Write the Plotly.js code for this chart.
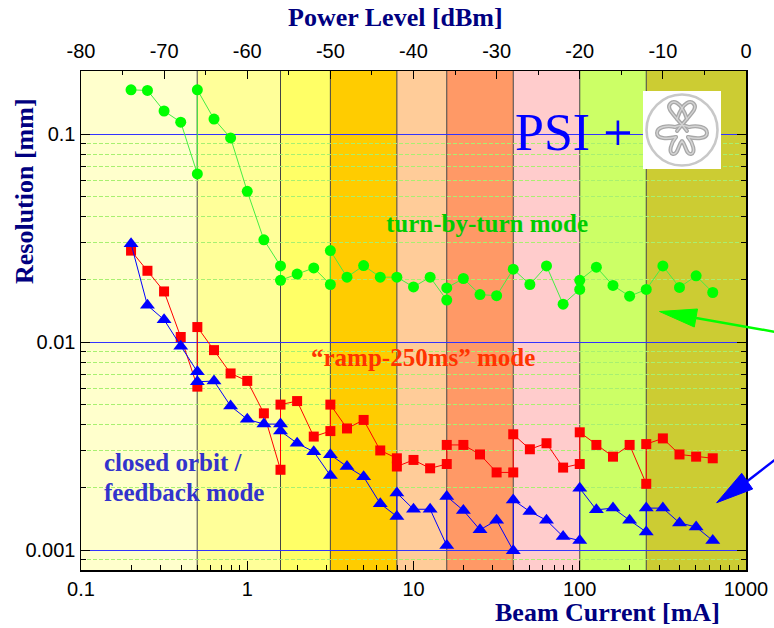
<!DOCTYPE html>
<html><head><meta charset="utf-8">
<script src="https://cdn.plot.ly/plotly-3.0.1.min.js"></script>
<style>html,body{margin:0;padding:0;background:#fff}#chart{width:774px;height:628px}</style>
</head><body><div id="chart"></div>
<script>
// ---------------- data ----------------
const currentGreen = [0.2,0.251,0.316,0.398,0.501,0.501,0.631,0.794,1,1.259,1.585,1.585,1.995,2.512,3.162,3.162,3.981,5.012,6.31,7.943,10,12.59,15.85,15.85,19.95,25.12,31.62,39.81,50.12,63.1,79.43,100,100,125.9,158.5,199.5,251.2,316.2,398.1,501.2,631];
const resGreen = [0.163,0.162,0.129,0.114,0.0643,0.163,0.118,0.0957,0.053,0.031,0.0232,0.0198,0.0212,0.0227,0.0189,0.0275,0.0205,0.0233,0.0205,0.0205,0.0184,0.0205,0.0159,0.0182,0.0202,0.0169,0.0167,0.0224,0.0189,0.0232,0.0152,0.0179,0.0198,0.0229,0.0187,0.0166,0.0179,0.0232,0.0183,0.0208,0.0173];

const currentRed = [0.2,0.251,0.316,0.398,0.501,0.501,0.631,0.794,1,1.259,1.585,1.585,1.995,2.512,3.162,3.162,3.981,5.012,6.31,7.943,7.943,10,12.59,15.85,15.85,19.95,25.12,31.62,39.81,39.81,50.12,63.1,79.43,100,100,125.9,158.5,199.5,251.2,251.2,316.2,398.1,501.2,631];
const resRed = [0.0275,0.022,0.0175,0.01057,0.0061,0.0118,0.00914,0.00706,0.0065,0.00454,0.00243,0.005,0.0052,0.00351,0.00373,0.005,0.00384,0.00422,0.00301,0.00276,0.00252,0.00271,0.00247,0.00259,0.0032,0.0032,0.00288,0.00236,0.00236,0.0036,0.00305,0.00326,0.00249,0.00259,0.00368,0.0032,0.00281,0.0032,0.00208,0.00323,0.00344,0.00288,0.00281,0.00276];

const currentBlue = [0.2,0.251,0.316,0.398,0.501,0.501,0.631,0.794,1,1.259,1.585,1.585,1.995,2.512,3.162,3.162,3.981,5.012,6.31,7.943,7.943,10,12.59,15.85,15.85,19.95,25.12,31.62,39.81,39.81,50.12,63.1,79.43,100,100,125.9,158.5,199.5,251.2,251.2,316.2,398.1,501.2,631];
const resBlue = [0.0297,0.015,0.0128,0.00955,0.00719,0.00644,0.00649,0.00492,0.00425,0.00403,0.00403,0.00373,0.00326,0.00297,0.00228,0.00287,0.00252,0.00225,0.00167,0.00145,0.00188,0.00157,0.00157,0.00105,0.00181,0.00155,0.00125,0.00139,0.000993,0.00174,0.00153,0.00139,0.00116,0.00111,0.00198,0.00156,0.00159,0.00139,0.00122,0.00159,0.00159,0.00135,0.00129,0.00111];

const bandEdges = [0.1,0.5,1.585,3.162,7.943,15.85,39.81,100,251.2,1000];
const bandColors = ['#FFFFCC','#FFFF99','#FFFF66','#FFCC00','#FFCC99','#FF9966','#FFCCCC','#CCFF66','#CCCC33'];

const xTickVals = [0.1,1,10,100,1000];
const xTickText = ['0.1','1','10','100','1000'];
const yTickVals = [0.001,0.01,0.1];
const yTickText = ['0.001','0.01','0.1'];
const powerTicks = [-80,-70,-60,-50,-40,-30,-20,-10,0];
const powerTickText = ['-80','-70','-60','-50','-40','-30','-20','-10','0'];
const powerMinor = [-75,-65,-55,-45,-35,-25,-15,-5];

// ---------------- geometry helpers (layout only) ----------------
const W=774,H=628,L=81,R=28,T=71,B=58;
const pw=W-L-R, ph=H-T-B;
const pxX = v => (v-L)/pw;
const pxY = v => (H-B-v)/ph;
// y range chosen so decade gridlines fall on whole pixels
const decadePx = 208;
const yTop = -1 + (134-T)/decadePx;
const yBot = yTop - ph/decadePx;

const xMinor=[], yMinor=[];
[0.1,1,10,100].forEach(d=>{for(let k=2;k<=9;k++) xMinor.push(k*d);});
[0.0001,0.001,0.01,0.1].forEach(d=>{for(let k=2;k<=9;k++){const v=k*d; if(v>0.0008&&v<0.2) yMinor.push(v);}});

const serif = 'Liberation Serif, Times New Roman, serif';
const sans = 'Liberation Sans, Arial, sans-serif';

// ---------------- traces ----------------
const traces = [
  {x:currentGreen, y:resGreen, type:'scatter', mode:'lines+markers',
   line:{color:'#44EE44', width:1}, marker:{symbol:'circle', size:11, color:'#00FF00'}},
  {x:currentRed, y:resRed, type:'scatter', mode:'lines+markers',
   line:{color:'#FF0000', width:1}, marker:{symbol:'square', size:10, color:'#FF0000'}},
  {x:currentBlue, y:resBlue, type:'scatter', mode:'lines+markers',
   line:{color:'#0000FF', width:1}, marker:{symbol:'triangle-up', size:13, color:'#0000FF'}},
  {x:[powerTicks[0], powerTicks[powerTicks.length-1]], y:[yTickVals[1], yTickVals[1]], xaxis:'x2',
   type:'scatter', mode:'markers', marker:{opacity:0}, hoverinfo:'skip'}
];

// ---------------- shapes ----------------
const shapes = [];
for(let i=0;i<bandColors.length;i++){
  shapes.push({type:'rect', xref:'x', yref:'paper', x0:bandEdges[i], x1:bandEdges[i+1], y0:0, y1:1,
    fillcolor:bandColors[i], line:{width:0}, layer:'below'});
}
for(let i=1;i<bandEdges.length-1;i++){
  shapes.push({type:'line', xref:'x', yref:'paper', x0:bandEdges[i], x1:bandEdges[i], y0:0, y1:1,
    line:{color:'#444', width:1}, layer:'below'});
}
function arrow(tail, baseC, tip, c1, c2, color){
  shapes.push({type:'line', xref:'paper', yref:'paper', x0:pxX(tail[0]), y0:pxY(tail[1]), x1:pxX(baseC[0]), y1:pxY(baseC[1]),
    line:{color:color, width:2.5}, layer:'above'});
  shapes.push({type:'path', xref:'paper', yref:'paper',
    path:`M ${pxX(tip[0])} ${pxY(tip[1])} L ${pxX(c1[0])} ${pxY(c1[1])} L ${pxX(c2[0])} ${pxY(c2[1])} Z`,
    fillcolor:color, line:{color:color, width:1}, layer:'above'});
}
arrow([776,332],[696,318],[659.5,311.5],[697.5,309],[694.3,327],'#00FF00');
arrow([776,459],[747.2,481.2],[716.7,502.7],[741.7,473.3],[752.7,489],'#0000FF');

// ---------------- logo ----------------
const knot = `<path d='M44 40 C38 32 30 24 27 19 C24 14 29 9 34 12 C39 15 42 22 44 28'/>
<path d='M34 40 C40 32 48 24 51 19 C54 14 49 9 44 12 C39 15 36 22 34 28'/>
<path d='M32 36 C24 34 14 36 14 42 C14 48 24 48 33 46'/>
<path d='M46 36 C54 34 64 36 64 42 C64 48 54 48 45 46'/>
<path d='M33 46 C28 52 25 62 30 63 C35 64 35 54 39 50 C43 54 43 64 48 63 C53 62 50 52 45 46'/>
<path d='M32 36 C36 34 42 34 46 36'/>`;
const logoSvg = `<svg xmlns='http://www.w3.org/2000/svg' width='78' height='78' viewBox='0 0 78 78'>
<rect width='78' height='78' fill='white'/>
<circle cx='39' cy='39' r='35.5' fill='none' stroke='#c8c8c8' stroke-width='2.6'/>
<g fill='none' stroke='#a8a8a8' stroke-width='4' stroke-linecap='round' stroke-linejoin='round'>${knot}</g>
<g fill='none' stroke='#d4d4d4' stroke-width='1.4' stroke-linecap='round' stroke-linejoin='round'>${knot}</g>
</svg>`;
const logoUri = 'data:image/svg+xml;charset=utf-8,' + encodeURIComponent(logoSvg);

// ---------------- annotations ----------------
function txt(text, x, y, size, color, opts){
  return Object.assign({text:text, xref:'paper', yref:'paper', x:pxX(x), y:pxY(y), showarrow:false,
    xanchor:'center', yanchor:'middle', font:{family:serif, size:size, color:color}}, opts||{});
}
const annotations = [
  txt('<b>Power Level [dBm]</b>', 395, 17.5, 26, '#000080'),
  txt('<b>Beam Current [mA]</b>', 607.5, 612, 26, '#000080'),
  txt('<b>Resolution [mm]</b>', 24, 191, 26, '#000080', {textangle:-90}),
  txt('PSI +', 573.7, 132.5, 52, '#0000FF'),
  txt('<b>turn-by-turn mode</b>', 486.5, 223.3, 25, '#00CC00'),
  txt('<b>“ramp-250ms” mode</b>', 422.5, 357, 25, '#FF3300'),
  txt('<b>closed orbit /</b>', 102, 462, 25, '#3333CC', {xanchor:'left'}),
  txt('<b>feedback mode</b>', 102, 492, 25, '#3333CC', {xanchor:'left'})
];

const layout = {
  width:W, height:H, margin:{l:L, r:R, t:T, b:B, pad:0},
  paper_bgcolor:'#fff', plot_bgcolor:'#fff', showlegend:false,
  xaxis:{type:'log', range:[-1,3], tickmode:'array', tickvals:xTickVals, ticktext:xTickText,
    showgrid:false, zeroline:false, ticks:'inside', ticklen:9, tickwidth:1, tickcolor:'#000',
    showline:true, linecolor:'#000', linewidth:1.5, mirror:false,
    tickfont:{family:sans, size:20, color:'#000'},
    minor:{tickmode:'array', tickvals:xMinor, ticks:'inside', ticklen:5, tickcolor:'#000', showgrid:false}},
  xaxis2:{overlaying:'x', side:'top', range:[-80,0], tickmode:'array', tickvals:powerTicks, ticktext:powerTickText,
    showgrid:false, zeroline:false, ticks:'inside', ticklen:8, tickcolor:'#000',
    showline:true, linecolor:'#000', linewidth:1.5, ticklabelstandoff:4,
    tickfont:{family:sans, size:20, color:'#000'},
    minor:{tickmode:'array', tickvals:powerMinor, ticks:'inside', ticklen:4, tickcolor:'#000', showgrid:false}},
  yaxis:{type:'log', range:[yBot, yTop], tickmode:'array', tickvals:yTickVals, ticktext:yTickText,
    showgrid:true, gridcolor:'#3333ff', gridwidth:1, zeroline:false,
    ticks:'inside', ticklen:9, tickcolor:'#000', showline:true, linecolor:'#000', linewidth:1.5, mirror:'ticks',
    tickfont:{family:sans, size:20, color:'#000'},
    minor:{tickmode:'array', tickvals:yMinor, ticks:'inside', ticklen:5, tickcolor:'#000',
      showgrid:true, gridcolor:'#a8f070', griddash:'4px,2px', gridwidth:1}},
  shapes:shapes,
  annotations:annotations,
  images:[{source:logoUri, xref:'paper', yref:'paper', x:pxX(643), y:pxY(91), sizex:78/pw, sizey:78/ph,
    xanchor:'left', yanchor:'top', sizing:'stretch', layer:'above'}]
};

Plotly.newPlot('chart', traces, layout, {displayModeBar:false, staticPlot:true});
</script></body></html>
